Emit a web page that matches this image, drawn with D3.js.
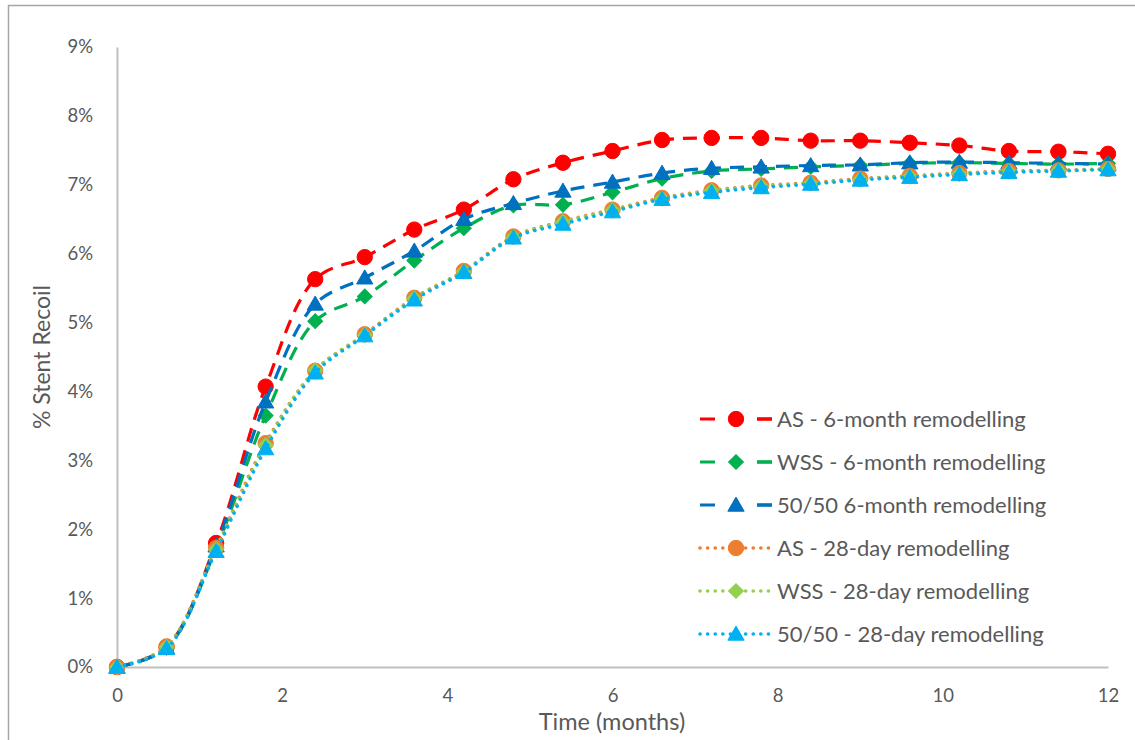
<!DOCTYPE html>
<html>
<head>
<meta charset="utf-8">
<script src="https://cdn.jsdelivr.net/npm/d3@7/dist/d3.min.js"></script>
<style>
  html, body { margin: 0; padding: 0; background: #fff; }
  svg { display: block; }
  text { font-family: Lato, "Open Sans", sans-serif; fill: #595959; }
</style>
</head>
<body>
<svg id="chart" width="1135" height="740"></svg>
<script>
// Time points (months)
const months = [0, 0.6, 1.2, 1.8, 2.4, 3.0, 3.6, 4.2, 4.8, 5.4, 6.0, 6.6, 7.2, 7.8, 8.4, 9.0, 9.6, 10.2, 10.8, 11.4, 12];

// Stent recoil (%) per remodelling scenario
const as6month   = [0, 0.29, 1.80, 4.07, 5.63, 5.95, 6.35, 6.64, 7.08, 7.32, 7.49, 7.65, 7.68, 7.68, 7.64, 7.64, 7.61, 7.57, 7.49, 7.48, 7.45];
const wss6month  = [0, 0.28, 1.72, 3.65, 5.02, 5.38, 5.90, 6.37, 6.70, 6.71, 6.89, 7.09, 7.20, 7.23, 7.26, 7.28, 7.31, 7.32, 7.31, 7.30, 7.31];
const mix6month  = [0, 0.28, 1.76, 3.85, 5.27, 5.65, 6.04, 6.50, 6.73, 6.91, 7.04, 7.17, 7.24, 7.26, 7.28, 7.29, 7.32, 7.33, 7.32, 7.31, 7.30];
const as28day    = [0, 0.30, 1.73, 3.25, 4.30, 4.83, 5.36, 5.75, 6.25, 6.47, 6.64, 6.81, 6.92, 6.99, 7.03, 7.09, 7.13, 7.17, 7.20, 7.21, 7.23];
const wss28day   = [0, 0.29, 1.71, 3.22, 4.31, 4.82, 5.35, 5.74, 6.24, 6.46, 6.63, 6.80, 6.91, 6.98, 7.02, 7.08, 7.12, 7.16, 7.19, 7.21, 7.23];
const mix28day   = [0, 0.27, 1.68, 3.17, 4.27, 4.81, 5.33, 5.73, 6.23, 6.43, 6.61, 6.79, 6.89, 6.96, 7.01, 7.07, 7.11, 7.15, 7.18, 7.20, 7.22];

const seriesNames = [
  "AS - 6-month remodelling",
  "WSS - 6-month remodelling",
  "50/50 6-month remodelling",
  "AS - 28-day remodelling",
  "WSS - 28-day remodelling",
  "50/50 - 28-day remodelling"
];

const xTicks = [0, 2, 4, 6, 8, 10, 12];
const yTicks = [0, 1, 2, 3, 4, 5, 6, 7, 8, 9];

// Styling for each series
const styles = [
  { color: "#FF0000", dash: "14,9",   cap: "butt",  width: 3.2, marker: "circle" },
  { color: "#00B050", dash: "14,9",   cap: "butt",  width: 3.2, marker: "diamond" },
  { color: "#0070C0", dash: "14,9",   cap: "butt",  width: 3.2, marker: "triangle" },
  { color: "#ED7D31", dash: "0.1,7.5", cap: "round", width: 3.6, marker: "circle" },
  { color: "#92D050", dash: "0.1,7.5", cap: "round", width: 3.6, marker: "diamond" },
  { color: "#00B0F0", dash: "0.1,7.5", cap: "round", width: 3.6, marker: "triangle" }
];

const values = [as6month, wss6month, mix6month, as28day, wss28day, mix28day];
const series = seriesNames.map((name, i) => ({
  name,
  style: styles[i],
  points: months.map((m, j) => ({ x: m, y: values[i][j] }))
}));

const svg = d3.select("#chart");

// Outer chart frame
svg.append("rect")
  .attr("x", 8.5).attr("y", 5.5)
  .attr("width", 1140).attr("height", 760)
  .attr("fill", "none")
  .attr("stroke", "#A6A6A6")
  .attr("stroke-width", 1.5);

const plot = { left: 117, right: 1108, top: 47, bottom: 667 };

const x = d3.scaleLinear().domain([0, 12]).range([plot.left, plot.right]);
const y = d3.scaleLinear().domain([0, 9]).range([plot.bottom, plot.top]);

// Axes
const xAxis = d3.axisBottom(x).tickValues(xTicks).tickSize(0).tickPadding(22).tickFormat(d3.format("d"));
const yAxis = d3.axisLeft(y).tickValues(yTicks).tickSize(0).tickPadding(24).tickFormat(d => d + "%");

const gx = svg.append("g").attr("transform", `translate(0,${plot.bottom})`).call(xAxis);
const gy = svg.append("g").attr("transform", `translate(${plot.left},0)`).call(yAxis);

[gx, gy].forEach(g => {
  g.select(".domain").attr("stroke", "#BFBFBF").attr("stroke-width", 2);
  g.selectAll("text")
    .attr("fill", "#595959")
    .style("font-family", "Lato, sans-serif")
    .style("font-size", "18.5px");
});

// Axis titles
svg.append("text")
  .attr("x", 612)
  .attr("y", 730)
  .attr("text-anchor", "middle")
  .style("font-size", "23.5px")
  .text("Time (months)");

svg.append("text")
  .attr("transform", `translate(50,${(plot.top + plot.bottom) / 2}) rotate(-90)`)
  .attr("text-anchor", "middle")
  .style("font-size", "23px")
  .text("% Stent Recoil");

// Marker shapes
const symbolFor = {
  circle: d3.symbol().type(d3.symbolCircle).size(185),
  diamond: d3.symbol().type(d3.symbolSquare).size(110),
  triangle: d3.symbol().type(d3.symbolTriangle).size(115)
};

function drawMarker(g, kind, cx, cy, color) {
  const p = g.append("path")
    .attr("d", symbolFor[kind]())
    .attr("fill", color)
    .attr("stroke", color)
    .attr("stroke-width", 1);
  if (kind === "diamond") p.attr("transform", `translate(${cx},${cy}) rotate(45)`);
  else if (kind === "triangle") p.attr("transform", `translate(${cx},${cy + 1.5})`);
  else p.attr("transform", `translate(${cx},${cy})`);
}

const line = d3.line()
  .x(d => x(d.x))
  .y(d => y(d.y))
  .curve(d3.curveCatmullRom.alpha(0.5));

const plotG = svg.append("g");

series.forEach(s => {
  const g = plotG.append("g");
  g.append("path")
    .datum(s.points)
    .attr("d", line)
    .attr("fill", "none")
    .attr("stroke", s.style.color)
    .attr("stroke-width", s.style.width)
    .attr("stroke-dasharray", s.style.dash)
    .attr("stroke-linecap", s.style.cap);
  s.points.forEach(p => drawMarker(g, s.style.marker, x(p.x), y(p.y), s.style.color));
});

// Legend
const legend = svg.append("g");
const legendTop = 419, legendStep = 43;
series.forEach((s, i) => {
  const ly = legendTop + i * legendStep;
  const g = legend.append("g");
  g.append("line")
    .attr("x1", 700).attr("x2", 772)
    .attr("y1", ly).attr("y2", ly)
    .attr("stroke", s.style.color)
    .attr("stroke-width", s.style.width)
    .attr("stroke-dasharray", s.style.cap === "round" ? "0.1,7.5" : "15,42")
    .attr("stroke-dashoffset", s.style.cap === "round" ? 0 : 0)
    .attr("stroke-linecap", s.style.cap);
  // right-hand dash of the legend sample
  if (s.style.cap !== "round") {
    g.append("line")
      .attr("x1", 757).attr("x2", 772)
      .attr("y1", ly).attr("y2", ly)
      .attr("stroke", s.style.color)
      .attr("stroke-width", s.style.width);
  }
  drawMarker(g, s.style.marker, 736, ly, s.style.color);
  g.append("text")
    .attr("x", 777)
    .attr("y", ly)
    .attr("dy", "0.35em")
    .style("font-size", "22px")
    .text(s.name);
});
</script>
</body>
</html>
